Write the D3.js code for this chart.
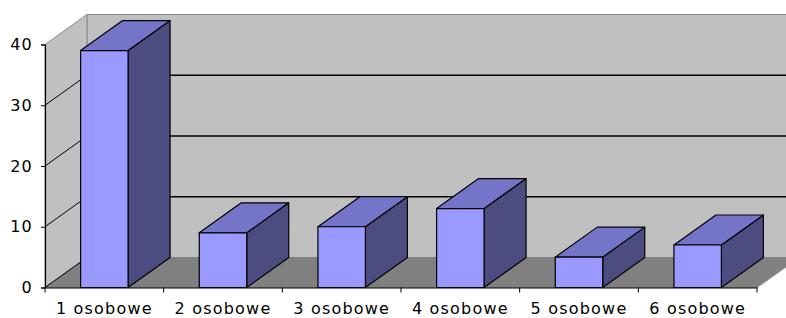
<!DOCTYPE html>
<html>
<head>
<meta charset="utf-8">
<script src="https://cdn.jsdelivr.net/npm/d3@7"></script>
<style>
    body { margin: 0; background: #fff; }
    svg text { font-family: "DejaVu Sans", Verdana, sans-serif; font-size: 16px; fill: #000; letter-spacing: 1.2px; }
</style>
</head>
<body>
<svg id="chart"></svg>
<script>
const categories = ['1 osobowe', '2 osobowe', '3 osobowe', '4 osobowe', '5 osobowe', '6 osobowe'];
const values = [39, 9, 10, 13, 5, 7];
const yTicks = [0, 10, 20, 30, 40];

const width = 786, height = 318;
// 3D depth offset
const dx = 42, dy = -30;

const svg = d3.select('#chart').attr('width', width).attr('height', height);

const x = d3.scaleBand().domain(categories).range([45, 757]);
const y = d3.scaleLinear().domain([0, 40]).range([287.5, 44.5]);

const x0 = x.range()[0], x1 = x.range()[1];
const yb = y(0), yt = y(40);

// walls
const walls = svg.append('g');
walls.append('rect')
    .attr('x', x0 + dx).attr('y', yt + dy)
    .attr('width', width).attr('height', yb - yt)
    .attr('fill', '#c0c0c0').attr('stroke', '#8a8a8a');
walls.append('polygon')
    .attr('points', [[x0, yb], [x0, yt], [x0 + dx, yt + dy], [x0 + dx, yb + dy]].join(' '))
    .attr('fill', '#c0c0c0').attr('stroke', '#8a8a8a');
walls.append('polygon')
    .attr('points', [[x0, yb], [x1, yb], [x1 + dx, yb + dy], [x0 + dx, yb + dy]].join(' '))
    .attr('fill', '#808080').attr('stroke', '#808080');

// gridlines: back wall + side wall diagonals
const grid = svg.append('g');
grid.selectAll('line.back')
    .data(yTicks.filter(d => d > 0 && d < 40))
    .join('line')
    .attr('class', 'back')
    .attr('x1', x0 + dx).attr('x2', width + 10)
    .attr('y1', d => y(d) + dy).attr('y2', d => y(d) + dy)
    .attr('stroke', '#000').attr('stroke-width', 1.6);
grid.selectAll('line.side')
    .data(yTicks.filter(d => d < 40))
    .join('line')
    .attr('class', 'side')
    .attr('x1', x0).attr('x2', x0 + dx)
    .attr('y1', d => y(d)).attr('y2', d => y(d) + dy)
    .attr('stroke', '#000').attr('stroke-width', 1);
// floor right edge
grid.append('line')
    .attr('x1', x1).attr('y1', yb).attr('x2', x1 + dx).attr('y2', yb + dy)
    .attr('stroke', '#999').attr('stroke-width', 1);

// bars
const barW = x.bandwidth() * 0.4;
const bars = svg.append('g')
    .selectAll('g')
    .data(categories.map((c, i) => ({ c, v: values[i] })))
    .join('g');

bars.each(function (d) {
    const g = d3.select(this);
    const bx = x(d.c) + (x.bandwidth() - barW) / 2;
    const top = y(d.v);
    g.append('polygon')
        .attr('points', [[bx + barW, yb], [bx + barW, top], [bx + barW + dx, top + dy], [bx + barW + dx, yb + dy]].join(' '))
        .attr('fill', '#4c4c80');
    g.append('polygon')
        .attr('points', [[bx, top], [bx + barW, top], [bx + barW + dx, top + dy], [bx + dx, top + dy]].join(' '))
        .attr('fill', '#7474c8');
    g.append('rect')
        .attr('x', bx).attr('y', top)
        .attr('width', barW).attr('height', yb - top)
        .attr('fill', '#9999ff');
    g.selectAll('polygon, rect')
        .attr('stroke', '#000').attr('stroke-width', 1.2).attr('stroke-linejoin', 'round');
});

// y axis
const yAxis = svg.append('g')
    .attr('transform', `translate(${x0},0)`)
    .call(d3.axisLeft(y).tickValues(yTicks).tickSize(4).tickPadding(8));
yAxis.select('.domain').attr('stroke', '#000').attr('stroke-width', 1.2);
yAxis.selectAll('.tick line').attr('stroke', '#000');
yAxis.selectAll('.tick text').attr('font-size', null).attr('font-family', null);

// x axis
const xAxis = svg.append('g')
    .attr('transform', `translate(0,${yb})`)
    .call(d3.axisBottom(x).tickSize(0).tickPadding(15));
xAxis.select('.domain').attr('stroke', '#000').attr('stroke-width', 1.2);
xAxis.selectAll('.tick text').attr('font-size', null).attr('font-family', null);

xAxis.selectAll('line.bound')
    .data(categories.map(c => x(c)).concat([x1]))
    .join('line')
    .attr('class', 'bound')
    .attr('x1', d => d).attr('x2', d => d)
    .attr('y1', 0).attr('y2', 5)
    .attr('stroke', '#000');
</script>
</body>
</html>
